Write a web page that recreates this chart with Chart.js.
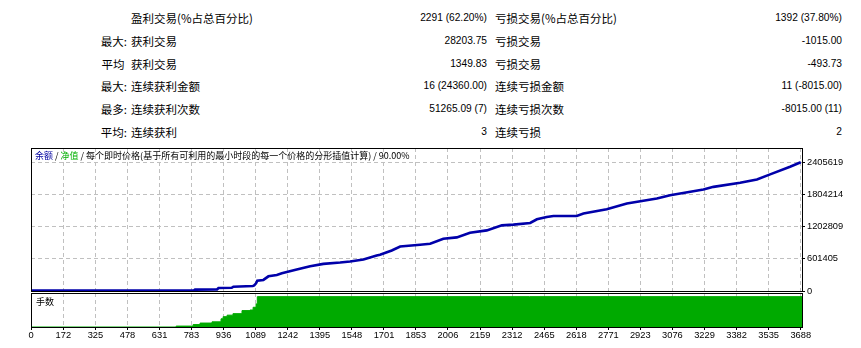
<!DOCTYPE html>
<html><head><meta charset="utf-8">
<script src="https://cdn.jsdelivr.net/npm/chart.js@4/dist/chart.umd.min.js"></script>
<style>
html,body{margin:0;padding:0;background:#fff;width:861px;height:348px;overflow:hidden;}
#wrap{position:relative;width:861px;height:348px;}
.t{position:absolute;white-space:pre;height:16px;line-height:16px;color:#000;}
.cj{font-family:"Noto Sans CJK SC",sans-serif;font-size:11.5px;}
.nm{font-family:"Liberation Sans",Arial,sans-serif;font-size:10.2px;}
canvas{position:absolute;left:0;}
</style></head><body><div id="wrap">
<div id="stats"></div>
<canvas id="c1" width="861" height="160" style="top:140px;width:861px;height:160px"></canvas>
<canvas id="c2" width="861" height="58" style="top:290px;width:861px;height:58px"></canvas>
</div>
<script>
// ---------- statistics table ----------
const statLeadLabels = ['', '最大:', '平均 ', '最大:', '最多:', '平均:'];
const statWinLabels = ['盈利交易(%占总百分比)', '获利交易', '获利交易', '连续获利金额', '连续获利次数', '连续获利'];
const statWinValues = ['2291 (62.20%)', '28203.75', '1349.83', '16 (24360.00)', '51265.09 (7)', '3'];
const statLossLabels = ['亏损交易(%占总百分比)', '亏损交易', '亏损交易', '连续亏损金额', '连续亏损次数', '连续亏损'];
const statLossValues = ['1392 (37.80%)', '-1015.00', '-493.73', '11 (-8015.00)', '-8015.00 (11)', '2'];

// ---------- chart data ----------
const xTickLabels = [0, 172, 325, 478, 631, 783, 936, 1089, 1242, 1395, 1548, 1701, 1853, 2006, 2159, 2312, 2465, 2618, 2771, 2923, 3076, 3229, 3382, 3535, 3688];
const yTickLabels = [0, 601405, 1202809, 1804214, 2405619];

const balanceTrade = [18, 795, 800, 905, 912, 975, 983, 1075, 1082, 1091, 1097, 1126, 1150, 1190, 1214, 1285, 1349, 1412, 1492, 1539, 1603, 1666, 1682, 1738, 1778, 1873, 1921, 1984, 2048, 2111, 2191, 2263, 2318, 2398, 2430, 2477, 2509, 2620, 2652, 2763, 2859, 3002, 3065, 3224, 3272, 3399, 3479, 3542, 3637, 3688];
const balanceValue = [10000, 12000, 25000, 28000, 56000, 60000, 81000, 92000, 105000, 143000, 194000, 207000, 274000, 300000, 331000, 400000, 462000, 507000, 532000, 551000, 588000, 663000, 676000, 757000, 832000, 864000, 883000, 977000, 1002000, 1090000, 1133000, 1227000, 1240000, 1271000, 1340000, 1383000, 1402000, 1402000, 1447000, 1528000, 1635000, 1729000, 1791000, 1898000, 1947000, 2022000, 2086000, 2180000, 2323000, 2405619];

const lotsTrade = [18, 710, 791, 824, 881, 924, 934, 953, 981, 1024, 1062, 1077, 1091, 1097, 3694];
const lotsValue = [0, 0.3, 0.8, 1.3, 1.7, 2.7, 3.4, 3.9, 4.4, 5.4, 5.6, 6.5, 7.6, 10, 10];

const legendParts = [['余额', '#0000a0'], [' / ', '#000'], ['净值', '#00b000'], [' / 每个即时价格(基于所有可利用的最小时段的每一个价格的分形插值计算) / 90.00%', '#000']];
const lotsTitle = '手数';

// ---------- build stats ----------
const stats = document.getElementById('stats');
function addText(txt, cls, top, left, right) {
  const d = document.createElement('div');
  d.className = 't ' + cls;
  d.textContent = txt;
  d.style.top = top + 'px';
  if (left !== null) d.style.left = left + 'px';
  if (right !== null) { d.style.right = right + 'px'; d.style.textAlign = 'right'; }
  stats.appendChild(d);
}
for (let i = 0; i < 6; i++) {
  const top = 18 + i * 22.8 - 8;
  addText(statLeadLabels[i], 'cj', top, null, 861 - 127);
  addText(statWinLabels[i], 'cj', top, 131, null);
  addText(statWinValues[i], 'nm', top, null, 861 - 487);
  addText(statLossLabels[i], 'cj', top, 495, null);
  addText(statLossValues[i], 'nm', top, null, 861 - 842);
}

// ---------- charts ----------
const xMin = 18, xMax = 3694, yMax = 2673000, lotsMax = 11.2;
const tickFont = { family: 'Liberation Sans', size: 9.3 };
const gridColor = '#c0c0c0';

const frame = {
  id: 'frame',
  afterDraw(chart) {
    const { ctx, chartArea: a } = chart;
    ctx.save();
    ctx.strokeStyle = '#000';
    ctx.lineWidth = 1;
    ctx.strokeRect(Math.round(a.left) + 0.5, Math.round(a.top) + 0.5, Math.round(a.right - a.left), Math.round(a.bottom - a.top));
    ctx.restore();
  }
};

function xAfterBuild(scale) {
  scale.ticks = xTickLabels.map(v => ({ value: Math.max(v, scale.min) }));
}

const legendPlugin = {
  id: 'legendText',
  afterDraw(chart) {
    const ctx = chart.ctx;
    ctx.save();
    ctx.font = '9px "Noto Sans CJK SC"';
    ctx.textBaseline = 'middle';
    let x = chart.chartArea.left + 4;
    const y = chart.chartArea.top + 8;
    for (const [t, c] of legendParts) {
      ctx.fillStyle = c;
      ctx.fillText(t, x, y);
      x += ctx.measureText(t).width;
    }
    ctx.restore();
  }
};

new Chart(document.getElementById('c1'), {
  type: 'line',
  data: {
    datasets: [{
      label: '余额',
      data: balanceTrade.map((x, i) => ({ x, y: balanceValue[i] })),
      borderColor: '#0000aa',
      borderWidth: 2.6,
      pointRadius: 0,
      tension: 0,
      fill: false
    }]
  },
  options: {
    responsive: false,
    animation: false,
    devicePixelRatio: 1,
    layout: { padding: { left: 31, right: 0, top: 8, bottom: 9 } },
    plugins: { legend: { display: false }, tooltip: { enabled: false } },
    scales: {
      x: {
        type: 'linear', min: xMin, max: xMax,
        afterBuildTicks: xAfterBuild,
        afterFit(s) { s.height = 0; },
        grid: { color: gridColor, drawTicks: false, tickLength: 0 },
        border: { display: false, dash: [4, 3] },
        ticks: { display: false, autoSkip: false }
      },
      y: {
        type: 'linear', position: 'right', min: 0, max: yMax,
        afterBuildTicks(scale) { scale.ticks = yTickLabels.map(v => ({ value: v })); },
        afterFit(s) { s.width = 59; },
        grid: { color: gridColor, drawTicks: true, tickLength: 3, tickColor: '#000', tickWidth: 1 },
        border: { display: false, dash: [4, 3] },
        ticks: { color: '#000', font: tickFont, padding: 2, autoSkip: false, callback: (v, i) => String(yTickLabels[i]) }
      }
    }
  },
  plugins: [frame, legendPlugin]
});

const lotsTitlePlugin = {
  id: 'lotsTitle',
  afterDraw(chart) {
    const ctx = chart.ctx;
    ctx.save();
    ctx.font = '9px "Noto Sans CJK SC"';
    ctx.textBaseline = 'middle';
    ctx.fillStyle = '#000';
    ctx.fillText(lotsTitle, chart.chartArea.left + 5, chart.chartArea.top + 9);
    ctx.restore();
  }
};

new Chart(document.getElementById('c2'), {
  type: 'line',
  data: {
    datasets: [{
      label: lotsTitle,
      data: lotsTrade.map((x, i) => ({ x, y: lotsValue[i] })),
      stepped: true,
      fill: 'origin',
      backgroundColor: '#00aa00',
      borderColor: '#00aa00',
      borderWidth: 1,
      pointRadius: 0
    }]
  },
  options: {
    responsive: false,
    animation: false,
    devicePixelRatio: 1,
    layout: { padding: { left: 31, right: 59, top: 3, bottom: 0 } },
    plugins: { legend: { display: false }, tooltip: { enabled: false } },
    scales: {
      x: {
        type: 'linear', min: xMin, max: xMax,
        afterBuildTicks: xAfterBuild,
        afterFit(s) { s.height = 21; },
        grid: { color: gridColor, drawTicks: true, tickLength: 3, tickColor: '#000', tickWidth: 1 },
        border: { display: false, dash: [4, 3] },
        ticks: { color: '#000', font: tickFont, padding: 0, autoSkip: false, maxRotation: 0, callback: (v, i) => String(xTickLabels[i]) }
      },
      y: { display: false, min: 0, max: lotsMax }
    }
  },
  plugins: [frame, lotsTitlePlugin]
});
</script>
</body></html>
